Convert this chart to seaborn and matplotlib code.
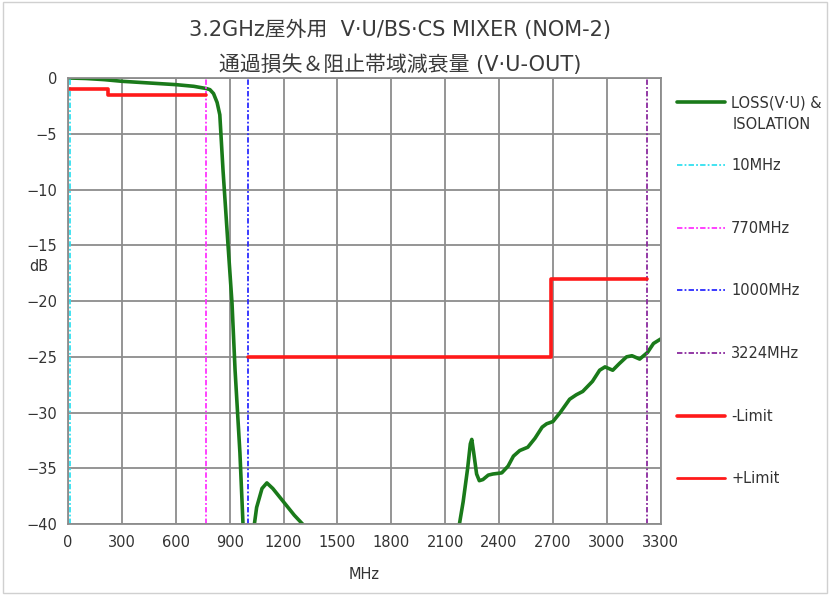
import numpy as np
import matplotlib
matplotlib.use("Agg")
import matplotlib.pyplot as plt
import seaborn as sns
from matplotlib.patches import Rectangle

# loss / isolation curve (MHz, dB); values below -40 are off-scale in the original
freq = [0, 100, 200, 300, 400, 500, 600, 700, 770, 790, 810, 830, 845, 863,
        890, 913, 930, 957, 975, 990, 1020, 1035, 1050, 1080, 1107, 1140,
        1200, 1260, 1324, 1400, 2100, 2176, 2200, 2225, 2240, 2248, 2258,
        2275, 2290, 2310, 2340, 2366, 2415, 2450, 2480, 2515, 2560, 2600,
        2640, 2665, 2700, 2740, 2793, 2830, 2866, 2920, 2960, 2990, 3033,
        3070, 3110, 3140, 3183, 3227, 3260, 3300]
loss = [0.0, -0.05, -0.15, -0.3, -0.4, -0.5, -0.6, -0.75, -0.95, -1.05,
        -1.4, -2.2, -3.3, -8.3, -14.8, -20.2, -26.2, -33.6, -40.3, -45, -44,
        -40.3, -38.5, -36.8, -36.3, -36.8, -38.0, -39.2, -40.3, -43, -43,
        -40.3, -38.0, -35.0, -32.8, -32.4, -33.5, -35.5, -36.1, -36.0, -35.6,
        -35.5, -35.4, -34.8, -33.9, -33.4, -33.1, -32.3, -31.3, -31.0, -30.8,
        -30.0, -28.8, -28.4, -28.1, -27.2, -26.2, -25.9, -26.2, -25.6, -25.0,
        -24.9, -25.2, -24.6, -23.8, -23.4]

# limit lines (step, value holds until next edge)
lim_pass_f = [0, 222, 770]
lim_pass_db = [-1.0, -1.5, -1.5]
lim_stop_f = [1000, 2690, 3224]
lim_stop_db = [-25, -18, -18]

# marker frequencies
marker_f = [10, 770, 1000, 3224]
marker_lbl = ["10MHz", "770MHz", "1000MHz", "3224MHz"]
marker_col = ["#33e0f0", "#ff33ff", "#2b2bff", "#8a2a9e"]

xticks = list(range(0, 3301, 300))
yticks = list(range(0, -41, -5))

sns.set_style("white")
plt.rcParams["font.family"] = ["DejaVu Sans", "Noto Sans CJK JP"]

fig = plt.figure(figsize=(8.3, 5.95), dpi=100)
ax = fig.add_axes([0.082, 0.119, 0.714, 0.750])

ax.set_xlim(0, 3300)
ax.set_ylim(-40, 0)
ax.set_xticks(xticks)
ax.set_yticks(yticks)
ax.grid(True, color="#8c8c8c", lw=1.3)
ax.set_axisbelow(True)
for s in ax.spines.values():
    s.set_color("#8c8c8c")
    s.set_linewidth(1.3)
ax.tick_params(length=0, labelsize=10.5, colors="#333333", pad=8)

handles = []
sns.lineplot(x=freq, y=loss, ax=ax, color="#1a7a1a", lw=2.6, sort=False,
             label="LOSS(V·U) &", legend=False)
handles.append(ax.lines[-1])
for f, lbl, c in zip(marker_f, marker_lbl, marker_col):
    ln = ax.axvline(f, color=c, lw=1.3, ls=(0, (3, 1.2, 1, 1.2)), label=lbl)
    handles.append(ln)

sns.lineplot(x=lim_pass_f, y=lim_pass_db, ax=ax, color="#ff1a1a", lw=2.6,
             drawstyle="steps-post", label="-Limit", legend=False)
handles.append(ax.lines[-1])
sns.lineplot(x=lim_stop_f, y=lim_stop_db, ax=ax, color="#ff1a1a", lw=2.6,
             drawstyle="steps-post", label="+Limit", legend=False)
handles.append(ax.lines[-1])

labels = [hd.get_label() for hd in handles]
leg = fig.legend(handles, labels, loc="upper left", bbox_to_anchor=(0.8, 0.862),
                 frameon=False, fontsize=10.5, labelspacing=3.27,
                 handlelength=3.3, handletextpad=0.4)
for t in leg.get_texts():
    t.set_color("#333333")
leg.legend_handles[-1].set_linewidth(2.0)
# second line of the first legend label
fig.text(0.883, 0.79, "ISOLATION", fontsize=10.5, color="#333333",
         ha="left", va="center")

ax.set_xlabel("MHz", fontsize=10.5, color="#333333", labelpad=12)
ax.set_ylabel("dB", fontsize=10.5, color="#333333", rotation=0, labelpad=14)
ax.yaxis.set_label_coords(-0.05, 0.56)

fig.text(0.482, 0.95, "3.2GHz屋外用  V·U/BS·CS MIXER (NOM-2)", ha="center",
         va="center", fontsize=15, color="#3a3a3a")
fig.text(0.482, 0.891, "通過損失＆阻止帯域減衰量 (V·U-OUT)", ha="center",
         va="center", fontsize=15, color="#3a3a3a")

fig.patches.append(Rectangle((0.004, 0.004), 0.992, 0.992, transform=fig.transFigure,
                             fill=False, edgecolor="#d0d0d0", lw=1))

fig.savefig("out.png", dpi=100)
